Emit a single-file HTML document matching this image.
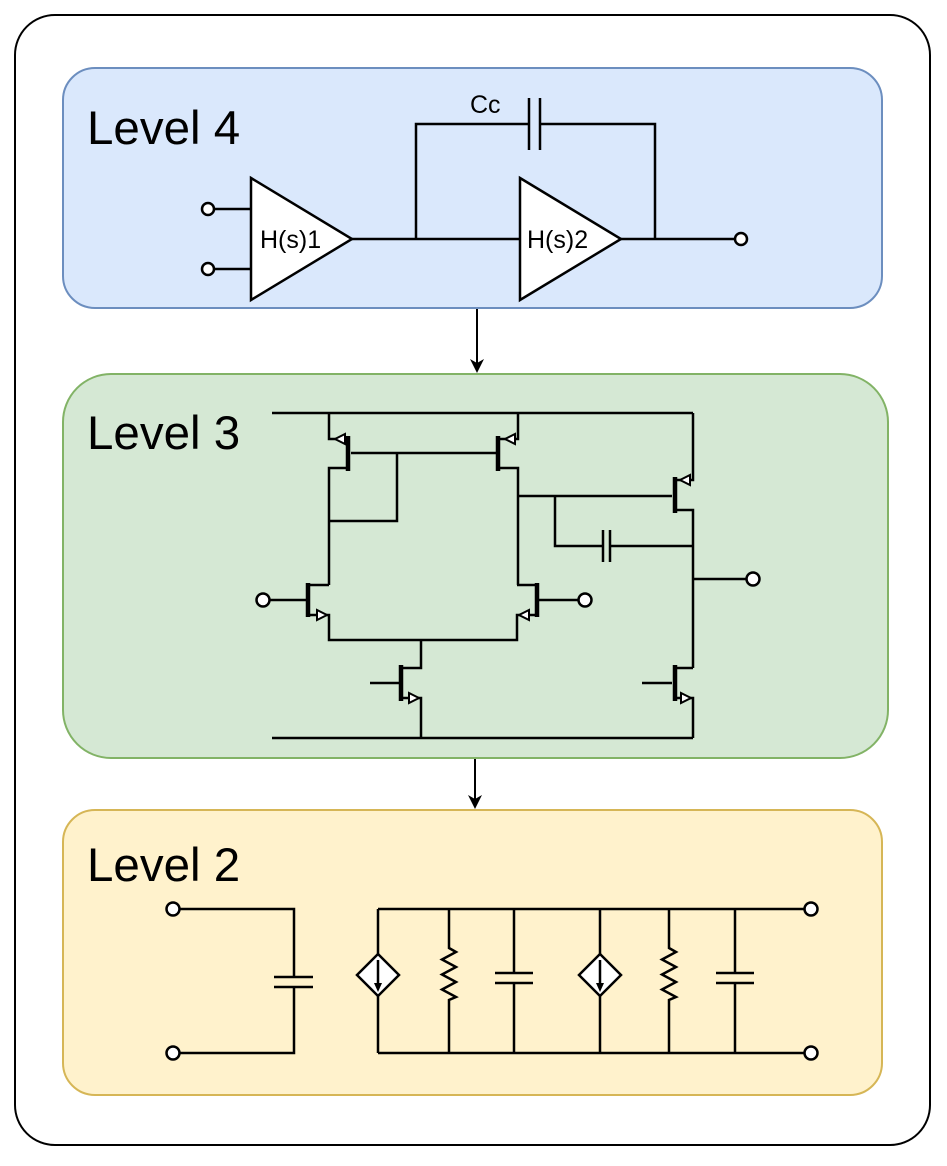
<!DOCTYPE html>
<html><head><meta charset="utf-8"><style>html,body{margin:0;padding:0;background:#fff}svg{display:block}</style></head><body>
<svg width="947" height="1166" viewBox="0 0 947 1166" xmlns="http://www.w3.org/2000/svg" font-family="Liberation Sans, sans-serif">
<defs>
<marker id="ah" markerWidth="14" markerHeight="16" refX="12" refY="7" orient="auto" markerUnits="userSpaceOnUse"><path d="M0,0 L14,7 L0,14 L4,7 Z" fill="#000"/></marker>
</defs>
<rect x="15" y="15" width="915" height="1130" rx="40" fill="#fff" stroke="#000" stroke-width="2"/>
<rect x="63" y="68" width="819" height="240" rx="32" fill="#dae8fc" stroke="#6c8ebf" stroke-width="2"/>
<rect x="63" y="374" width="825" height="384" rx="48" fill="#d5e8d4" stroke="#82b366" stroke-width="2"/>
<rect x="63" y="810" width="819" height="285" rx="32" fill="#fff2cc" stroke="#d6b656" stroke-width="2"/>
<line x1="477" y1="309" x2="477" y2="371" stroke="#000" stroke-width="2" marker-end="url(#ah)"/>
<line x1="475" y1="759" x2="475" y2="807" stroke="#000" stroke-width="2" marker-end="url(#ah)"/>
<g font-size="47.5" fill="#000"><text x="87" y="144">Level 4</text><text x="87" y="449">Level 3</text><text x="87" y="881">Level 2</text></g>

<!-- Level 4 -->
<g stroke="#000" stroke-width="2.5" fill="none">
<path d="M214,209 H251 M214,269 H251 M352,239 H520 M416,239 V124 H529 M540,124 H655 V239 M621,239 H735"/>
<path d="M529,98 V150 M540,98 V150"/>
<circle cx="208" cy="209" r="6" fill="#fff"/><circle cx="208" cy="269" r="6" fill="#fff"/><circle cx="741" cy="239" r="6" fill="#fff"/>
<path d="M251,178 L352,239 L251,300 Z" fill="#fff"/>
<path d="M520,178 L621,239 L520,300 Z" fill="#fff"/>
</g>
<g font-size="25" fill="#000"><text x="260" y="248">H(s)1</text><text x="527" y="248">H(s)2</text><text x="470" y="113">Cc</text></g>

<!-- Level 3 -->
<g stroke="#000" stroke-width="2.5" fill="none">
<path d="M272,413 H693 M272,738 H693"/>
<path d="M329,413 V439 H347 M347,468 H329 V585 M351,453 H497 M397,453 V521 H329"/>
<path d="M348,436 V471" stroke-width="4.5"/>
<path d="M518,413 V439 H499 M499,468 H518 V585 M518,496 H672"/>
<path d="M498,436 V471" stroke-width="4.5"/>
<path d="M693,413 V480 H676 M676,510 H693 V668 M693,579 H747"/>
<path d="M675,477 V513" stroke-width="4.5"/>
<path d="M555,496 V546 H603 M610,546 H693 M603,530 V562 M610,530 V562"/>
<path d="M269,600 H306 M329,585 H310 M310,615 H329 V640 H517 V615 H535 M517,585 H535 M539,600 H579"/>
<path d="M308,583 V617" stroke-width="4.5"/>
<path d="M537,583 V617" stroke-width="4.5"/>
<path d="M421,640 V668 H403 M403,698 H421 V738 M370,683 H399"/>
<path d="M401,665 V701" stroke-width="4.5"/>
<path d="M693,668 H676 M676,698 H693 V738 M642,683 H672"/>
<path d="M675,665 V701" stroke-width="4.5"/>
<circle cx="263" cy="600" r="6.5" fill="#fff"/><circle cx="585" cy="600" r="6.5" fill="#fff"/><circle cx="753" cy="579" r="6.5" fill="#fff"/>
</g>
<g fill="#fff" stroke="#000" stroke-width="2">
<path d="M335,439 L345,434 L345,444 Z"/>
<path d="M505,439 L515,434 L515,444 Z"/>
<path d="M680,480 L690,475 L690,485 Z"/>
<path d="M327,615 L317,610 L317,620 Z"/>
<path d="M519,615 L529,610 L529,620 Z"/>
<path d="M419,698 L409,693 L409,703 Z"/>
<path d="M691,698 L681,693 L681,703 Z"/>
</g>

<!-- Level 2 -->
<g stroke="#000" stroke-width="2.5" fill="none">
<path d="M179,909 H294 V977 M294,987 V1053 H179 M274,977 H313 M274,987 H313"/>
<path d="M378,909 H805 M378,1053 H805 M378,909 V954 M378,996 V1053"/>
<path d="M449,909 V948 l7,4 l-14,7.5 l14,7.5 l-14,7.5 l14,7.5 l-14,7.5 l14,7.5 l-7,3 V1053"/>
<path d="M514,909 V973 M514,983 V1053 M495,973 H533 M495,983 H533"/>
<path d="M600,909 V954 M600,996 V1053"/>
<path d="M669,909 V948 l7,4 l-14,7.5 l14,7.5 l-14,7.5 l14,7.5 l-14,7.5 l14,7.5 l-7,3 V1053"/>
<path d="M735,909 V973 M735,983 V1053 M716,973 H754 M716,983 H754"/>
<path d="M378,954 L399,975 L378,996 L357,975 Z" fill="#fff"/>
<path d="M600,954 L621,975 L600,996 L579,975 Z" fill="#fff"/>
<path d="M378,960 V986 M600,960 V986"/>
<circle cx="173" cy="909" r="6.5" fill="#fff"/><circle cx="173" cy="1053" r="6.5" fill="#fff"/>
<circle cx="811" cy="909" r="6.5" fill="#fff"/><circle cx="811" cy="1053" r="6.5" fill="#fff"/>
</g>
<path d="M374,983 L382,983 L378,992 Z M596,983 L604,983 L600,992 Z" fill="#000"/>
</svg>
</body></html>
